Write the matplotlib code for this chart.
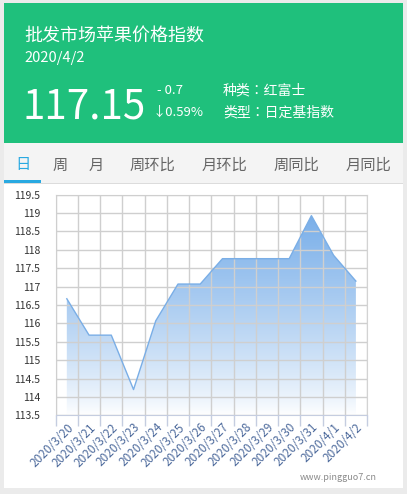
import numpy as np
import matplotlib
matplotlib.use('Agg')
import matplotlib.pyplot as plt
from matplotlib.patches import Rectangle, Polygon
from matplotlib.colors import ListedColormap

plt.rcParams['font.family'] = ['Noto Sans CJK SC', 'DejaVu Sans']

# ── data ─────────────────────────────────────────────────────────────────────
dates = ['2020/3/20', '2020/3/21', '2020/3/22', '2020/3/23', '2020/3/24',
         '2020/3/25', '2020/3/26', '2020/3/27', '2020/3/28', '2020/3/29',
         '2020/3/30', '2020/3/31', '2020/4/1', '2020/4/2']
values = [116.67, 115.68, 115.68, 114.2, 116.07,
          117.07, 117.07, 117.76, 117.76, 117.76,
          117.76, 118.93, 117.85, 117.15]
yticks = [113.5, 114, 114.5, 115, 115.5, 116, 116.5, 117,
          117.5, 118, 118.5, 119, 119.5]
ytick_labels = ['113.5', '114', '114.5', '115', '115.5', '116', '116.5', '117',
                '117.5', '118', '118.5', '119', '119.5']
tabs = ['日', '周', '月', '周环比', '月环比', '周同比', '月同比']
tab_x = [23, 60, 96.5, 152, 224, 296, 368]

title = '批发市场苹果价格指数'
date_str = '2020/4/2'
latest = '117.15'
change = '- 0.7'
change_pct = '↓0.59%'
info1 = '种类：红富士'
info2 = '类型：日定基指数'

W, H = 407, 494
fig = plt.figure(figsize=(W / 100, H / 100), dpi=100)
fig.patch.set_facecolor('#ebebeb')


def fx(x):
    return x / W


def fy(y):
    return 1 - y / H


def box(x0, y0, x1, y1, color):
    fig.patches.append(Rectangle((fx(x0), fy(y1)), fx(x1) - fx(x0), fy(y0) - fy(y1),
                                 transform=fig.transFigure, facecolor=color,
                                 edgecolor='none', zorder=-10))


# card pieces
box(4, 3, 403, 143, '#1fc07c')
box(4, 143, 403, 183, '#f4f4f4')
box(4, 183, 403, 184.2, '#dcdcdc')
box(4, 180.5, 41, 183, '#29a9e1')
box(4, 184.2, 403, 488, '#ffffff')

# header texts
tc = ['Noto Sans CJK TC', 'DejaVu Sans']
fig.text(fx(24), fy(36), title, color='white', fontsize=13, va='center', ha='left')
fig.text(fx(24), fy(58), date_str, color='white', fontsize=10.5, va='center', ha='left')
fig.text(fx(23), fy(107), latest, color='white', fontsize=29, va='center', ha='left')
fig.text(fx(157), fy(90), change, color='white', fontsize=9.5, va='center', ha='left')
fig.text(fx(153), fy(112.5), change_pct, color='white', fontsize=9.5, va='center', ha='left')
fig.text(fx(223), fy(90), info1, color='white', fontsize=10, va='center', ha='left',
         family=tc)
fig.text(fx(223), fy(112), info2, color='white', fontsize=10, va='center', ha='left',
         family=tc)

for i, (t, x) in enumerate(zip(tabs, tab_x)):
    fig.text(fx(x), fy(165), t, color='#29a9e1' if i == 0 else '#666666',
             fontsize=11, va='center', ha='center')

fig.text(fx(377), fy(477), 'www.pingguo7.cn', color='#8a8a8a', fontsize=6.5,
         va='center', ha='right')

# ── chart ────────────────────────────────────────────────────────────────────
ax = fig.add_axes([fx(55.7), fy(415.3), fx(367) - fx(55.7), fy(194.7) - fy(415.3)])
ax.set_facecolor('white')
x = np.arange(len(dates))
ax.set_xlim(-0.5, len(dates) - 0.5)
ax.set_ylim(113.5, 119.5)

# vertical gradient fill under the line (white at the bottom -> blue on top)
f = np.linspace(0, 1, 256) ** 0.8
top = np.array([0x78, 0xae, 0xe9]) / 255
rgb = 1 - np.outer(f, 1 - top)
cmap = ListedColormap(rgb)
grad = np.linspace(0, 1, 256).reshape(-1, 1)
im = ax.imshow(grad, cmap=cmap, origin='lower', aspect='auto',
               extent=[-0.5, len(dates) - 0.5, 113.5, 119.0], zorder=1)
verts = [(x[0], 113.5)] + list(zip(x, values)) + [(x[-1], 113.5)]
clip = Polygon(verts, closed=True, facecolor='none', edgecolor='none',
               transform=ax.transData)
ax.add_patch(clip)
im.set_clip_path(clip)
ax.plot(x, values, color='#7aaee6', lw=1.0, zorder=3)

ax.set_xticks(np.arange(len(dates) + 1) - 0.5, minor=True)
ax.set_xticks(x)
ax.set_xticklabels(dates, rotation=45, ha='right', rotation_mode='anchor',
                   fontsize=8.5, color='#4d6a9c')
ax.set_yticks(yticks)
ax.set_yticklabels(ytick_labels, fontsize=7.5, color='#333333')
ax.tick_params(axis='x', which='major', length=0, pad=4)
ax.tick_params(axis='x', which='minor', length=8, color='#c5cde0', width=1)
ax.tick_params(axis='y', length=0, pad=11)
ax.grid(True, which='minor', axis='x', color='#cfcfcf', lw=1, zorder=2)
ax.grid(True, which='major', axis='y', color='#cfcfcf', lw=1, zorder=2)
ax.set_axisbelow(False)
for s in ['top', 'right', 'left']:
    ax.spines[s].set_color('#d3d3d3')
ax.spines['bottom'].set_color('#c5cde0')

fig.savefig('out.png', dpi=100)
